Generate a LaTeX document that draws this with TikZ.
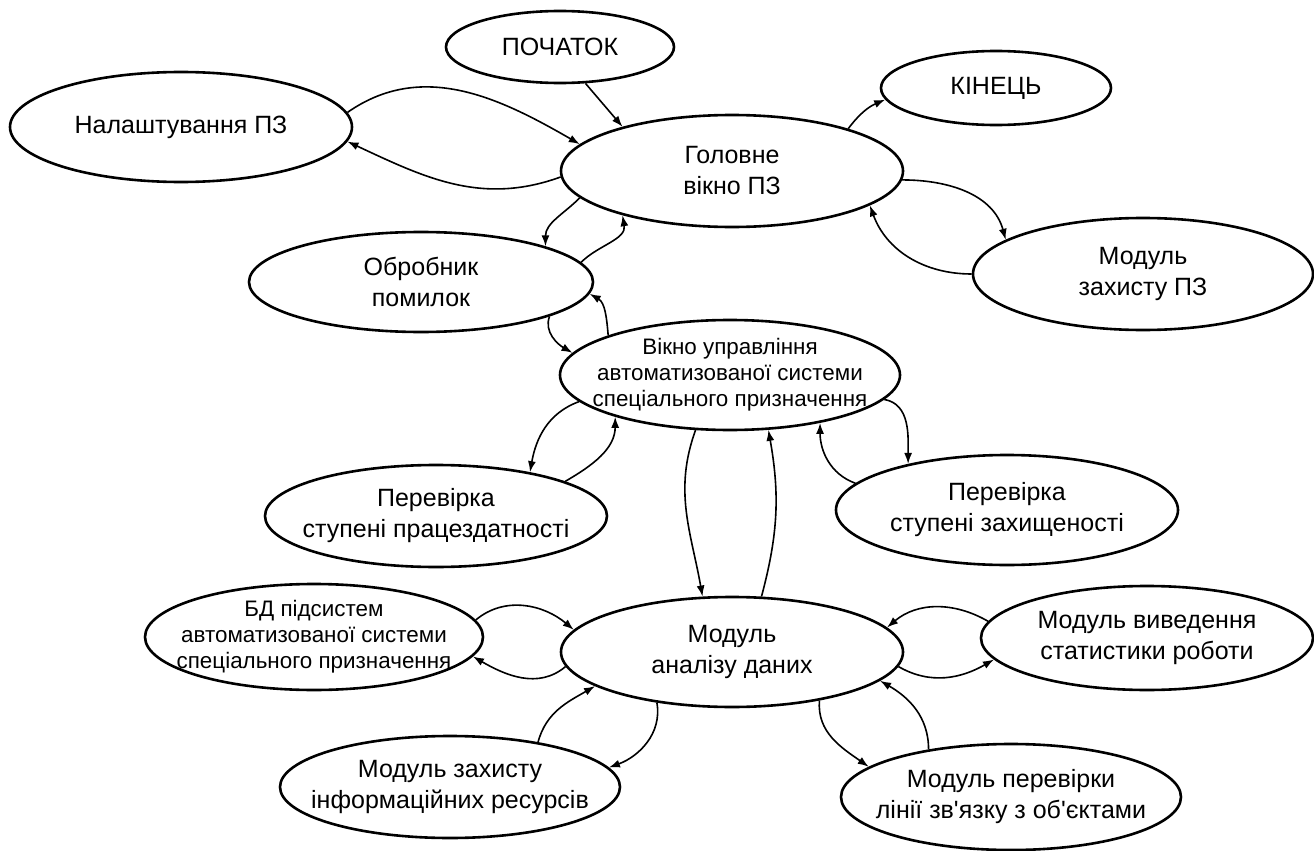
\documentclass[tikz,border=0pt]{standalone}
\usepackage{fontspec}
\setmainfont{Liberation Sans}
\usetikzlibrary{shapes.geometric,arrows.meta}
\begin{document}
\begin{tikzpicture}[x=0.5pt,y=-0.5pt,
		blob/.style={draw, ellipse, line width=1.3pt, inner sep=0pt},
		txt/.style={align=center, font=\fontsize{12.5}{15.5}\selectfont},
		small/.style={align=center, font=\fontsize{11.2}{13}\selectfont},
		flow/.style={-{Latex[length=5.5pt,width=4pt]}, line width=0.8pt}]
		\useasboundingbox (0,0) rectangle (1314,851);
		\node[blob, minimum width=114pt, minimum height=36pt, label={[txt]center:ПОЧАТОК}] (start) at (560,47) {};
		\node[blob, minimum width=171pt, minimum height=55pt, label={[txt]center:Налаштування ПЗ}] (setup) at (181,127) {};
		\node[blob, minimum width=171pt, minimum height=56pt, label={[txt]center:Головне\\вікно ПЗ}] (main) at (732,171) {};
		\node[blob, minimum width=115pt, minimum height=37pt, label={[txt]center:КІНЕЦЬ}] (finish) at (996,88) {};
		\node[blob, minimum width=170pt, minimum height=56pt, label={[txt]center:Модуль\\захисту ПЗ}] (protsw) at (1143,274) {};
		\node[blob, minimum width=172pt, minimum height=50pt, label={[txt]center:Обробник\\помилок}] (errors) at (421,282) {};
		\node[blob, minimum width=170pt, minimum height=55pt, label={[small]center:Вікно управління\\автоматизованої системи\\спеціального призначення}] (control) at (730,375) {};
		\node[blob, minimum width=171pt, minimum height=51pt, label={[txt]center:Перевірка\\ступені працездатності}] (health) at (436,516) {};
		\node[blob, minimum width=171pt, minimum height=55pt, label={[txt]center:Перевірка\\ступені захищеності}] (secure) at (1007,510) {};
		\node[blob, minimum width=169pt, minimum height=53pt, label={[small]center:БД підсистем\\автоматизованої системи\\спеціального призначення}] (db) at (314,637) {};
		\node[blob, minimum width=171pt, minimum height=55pt, label={[txt]center:Модуль\\аналізу даних}] (analysis) at (732,652) {};
		\node[blob, minimum width=166pt, minimum height=52pt, label={[txt]center:Модуль виведення\\статистики роботи}] (stats) at (1147,638) {};
		\node[blob, minimum width=170pt, minimum height=51pt, label={[txt]center:Модуль захисту\\інформаційних ресурсів}] (protinfo) at (450,787) {};
		\node[blob, minimum width=170pt, minimum height=53pt, label={[txt]center:Модуль перевірки\\лінії зв\textquotesingle язку з об\textquotesingle єктами}] (linecheck) at (1011,797) {};

		\draw[flow] (start.-55) -- (main.158);
		\draw[flow] (main.20) to[bend left=15] (finish.186);
		\draw[flow] (setup.5) to[out=35,in=150] (main.170);
		\draw[flow] (main.182) to[out=200,in=-25] (setup.-5);
		\draw[flow] (main.-3) to[out=0,in=105] (protsw.166);
		\draw[flow] (protsw.180) to[out=180,in=-70] (main.-14);
		\draw[flow] (main.190) to[out=225,in=90] (errors.16);
		\draw[flow] (errors.7) to[out=45,in=-80] (main.202);
		\draw[flow] (errors.-15) to[out=250,in=150] (control.172);
		\draw[flow] (control.162) to[out=95,in=-30] (errors.-4);
		\draw[flow] (control.190) to[out=200,in=80] (health.25);
		\draw[flow] (health.15) to[out=30,in=-90] (control.200);
		\draw[flow] (control.-9) to[out=-10,in=90] (secure.155);
		\draw[flow] (secure.170) to[out=160,in=-90] (control.-28);
		\draw[flow] (control.238) to[out=250,in=100] (analysis.118);
		\draw[flow] (analysis.62) to[out=75,in=-80] (control.-55);
		\draw[flow] (db.6) to[out=40,in=140] (analysis.172);
		\draw[flow] (analysis.185) to[out=220,in=-30] (db.-7);
		\draw[flow] (stats.174) to[out=150,in=40] (analysis.9);
		\draw[flow] (analysis.-5) to[out=-30,in=210] (stats.188);
		\draw[flow] (protinfo.27) to[out=75,in=-150] (analysis.194);
		\draw[flow] (analysis.214) to[out=-80,in=20] (protinfo.7);
		\draw[flow] (analysis.-29) to[out=-95,in=145] (linecheck.168);
		\draw[flow] (linecheck.150) to[out=90,in=-30] (analysis.-11);
	\end{tikzpicture}
\end{document}
